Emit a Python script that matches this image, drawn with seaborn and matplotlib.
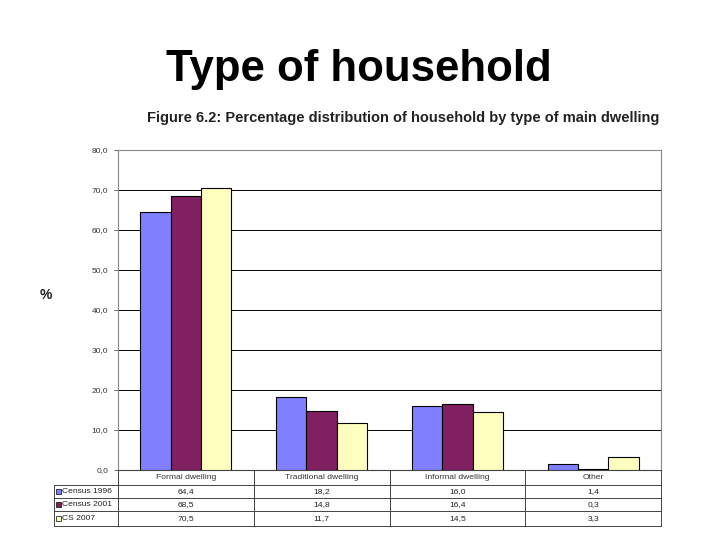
import pandas as pd
import matplotlib
matplotlib.use("Agg")
import matplotlib.pyplot as plt
import seaborn as sns
from matplotlib.patches import Rectangle
from matplotlib.lines import Line2D

categories = ["Formal dwelling", "Traditional dwelling", "Informal dwelling", "Other"]
series = ["Census 1996", "Census 2001", "CS 2007"]
census_1996 = [64.4, 18.2, 16.0, 1.4]
census_2001 = [68.5, 14.8, 16.4, 0.3]
cs_2007 = [70.5, 11.7, 14.5, 3.3]
colors = ["#8080ff", "#802060", "#ffffc0"]
yticks = [0, 10, 20, 30, 40, 50, 60, 70, 80]

W, H = 720, 540


def comma(v):
    return f"{v:.1f}".replace(".", ",")


def fx(px):
    return px / W


def fy(py):
    return 1 - py / H


def hline(fig, x0, x1, y, color="#444444", lw=0.7):
    fig.lines.append(Line2D([fx(x0), fx(x1)], [fy(y), fy(y)], transform=fig.transFigure,
                            color=color, lw=lw))


def vline(fig, x, y0, y1, color="#444444", lw=0.7):
    fig.lines.append(Line2D([fx(x), fx(x)], [fy(y0), fy(y1)], transform=fig.transFigure,
                            color=color, lw=lw))


def main():
    values = [census_1996, census_2001, cs_2007]
    rows = []
    for s, vals in zip(series, values):
        for c, v in zip(categories, vals):
            rows.append({"category": c, "series": s, "value": v})
    df = pd.DataFrame(rows)

    sns.set_style("white")
    plt.rcParams["font.family"] = ["Liberation Sans", "DejaVu Sans"]

    fig = plt.figure(figsize=(7.2, 5.4), dpi=100)
    left, right, top, bottom = 118, 661, 150, 470
    ax = fig.add_axes([fx(left), fy(bottom), fx(right - left), (bottom - top) / H])

    sns.barplot(data=df, x="category", y="value", hue="series", order=categories,
                hue_order=series, palette=colors, width=0.67, edgecolor="black",
                linewidth=0.8, saturation=1, legend=False, ax=ax, zorder=3)

    ax.set_ylim(0, 80)
    ax.set_xlim(-0.5, 3.5)
    ax.set_yticks(yticks)
    ax.set_yticklabels([comma(t) for t in yticks], fontsize=6, color="#333333")
    ax.tick_params(axis="y", left=True, length=3, width=0.6, pad=4, color="#555555")
    ax.set_xticks([])
    ax.set_xlabel("")
    ax.set_ylabel("")
    for t in yticks[1:-1]:
        ax.axhline(t, color="black", lw=0.7, zorder=1)
    for sp in ax.spines.values():
        sp.set_color("#888888")
        sp.set_linewidth(0.8)
    ax.spines["bottom"].set_color("#444444")

    # data table under the chart
    row_y = [470, 485, 498, 511, 526]
    label_x = 54
    col_w = (right - left) / len(categories)
    col_x = [left + i * col_w for i in range(len(categories) + 1)]

    hline(fig, left, right, row_y[0])
    for y in row_y[1:]:
        hline(fig, label_x, right, y)
    vline(fig, label_x, row_y[1], row_y[-1])
    for x in col_x:
        vline(fig, x, row_y[0], row_y[-1])

    for j, cat in enumerate(categories):
        xc = (col_x[j] + col_x[j + 1]) / 2
        fig.text(fx(xc), fy((row_y[0] + row_y[1]) / 2), cat, ha="center", va="center",
                 fontsize=6.1, color="#333333")
    for i, (s, vals) in enumerate(zip(series, values)):
        yc = (row_y[i + 1] + row_y[i + 2]) / 2
        fig.patches.append(Rectangle((fx(56), fy(yc + 2.5)), 5 / W, 5 / H,
                                     transform=fig.transFigure, facecolor=colors[i],
                                     edgecolor="black", lw=0.5))
        fig.text(fx(62), fy(yc), s, ha="left", va="center", fontsize=6.1, color="#222222")
        for j, v in enumerate(vals):
            xc = (col_x[j] + col_x[j + 1]) / 2
            fig.text(fx(xc), fy(yc), comma(v), ha="center", va="center",
                     fontsize=6.1, color="#222222")

    fig.text(fx(359), fy(69), "Type of household", ha="center", va="center",
             fontsize=31.5, fontweight="bold", color="black")
    fig.text(fx(403), fy(118),
             "Figure 6.2: Percentage distribution of household by type of main dwelling",
             ha="center", va="center", fontsize=10.5, fontweight="bold", color="#222222")
    fig.text(fx(46), fy(295), "%", ha="center", va="center", fontsize=10,
             fontweight="bold", color="#222222")

    fig.savefig("out.png", dpi=100, facecolor="white")


if __name__ == "__main__":
    main()
